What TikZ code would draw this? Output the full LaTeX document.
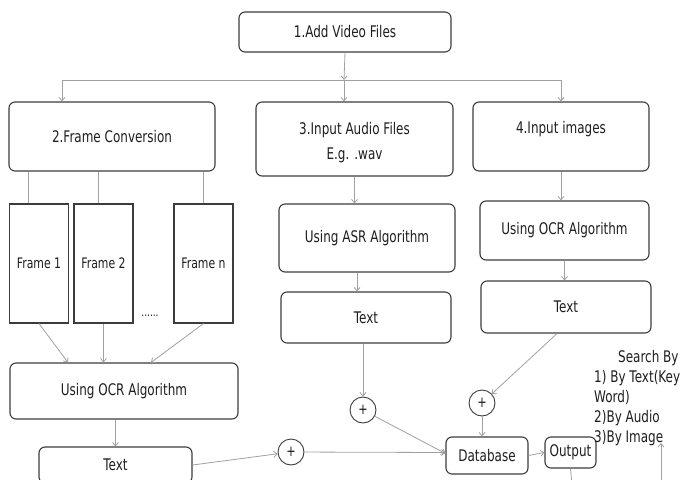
\documentclass[tikz,border=0pt]{standalone}
\usepackage{fontspec}
\setmainfont{DejaVu Sans}[FakeStretch=0.75]
\usetikzlibrary{arrows.meta}
\definecolor{boxline}{HTML}{3C3C3C}
\definecolor{linkgray}{HTML}{A0A0A0}
\definecolor{ink}{HTML}{1E1E1E}

\begin{document}
\begin{tikzpicture}[x=1pt, y=-1pt,
  box/.style={draw=boxline, line width=1.1pt, rounded corners=6pt, align=center,
    text=ink, inner sep=2pt, font=\fontsize{16}{20}\selectfont},
  framebox/.style={draw=boxline, line width=1.1pt, minimum width=59pt,
    minimum height=119pt, text=ink, inner sep=0pt, font=\fontsize{14.5}{18}\selectfont},
  sumnode/.style={circle, draw=boxline, line width=0.9pt, minimum size=26pt,
    inner sep=0pt, text=ink, font=\fontsize{15}{18}\selectfont},
  link/.style={draw=linkgray, line width=0.8pt, -{Straight Barb[length=3.5pt,width=6pt]}},
  plainlink/.style={draw=linkgray, line width=0.8pt}]
\useasboundingbox (0,0) rectangle (685,479);

% top row
\node[box, minimum width=212pt, minimum height=40pt] (add) at (345,32) {1.Add Video Files};
\node[box, minimum width=206pt, minimum height=69pt] (frameconv) at (112,136.5) {2.Frame Conversion};
\node[box, minimum width=197pt, minimum height=74pt] (audio) at (354.5,139)
  {\rule{0pt}{19pt}3.Input Audio Files\\[5pt]E.g. .wav};
\node[box, minimum width=176pt, minimum height=69pt, text depth=18pt] (images) at (561,136.5) {4.Input images};
\coordinate (split) at (344,80);

% frames
\node[framebox] (frame1) at (39,263.5) {Frame 1};
\node[framebox] (frame2) at (103.5,263.5) {Frame 2};
\node[framebox] (framen) at (203.5,263.5) {Frame n};
\node[text=ink, font=\fontsize{12}{14}\selectfont, inner sep=0pt] (dots) at (150,316) {......};

% algorithms and texts
\node[box, minimum width=228pt, minimum height=56pt] (ocr) at (124,391) {Using OCR Algorithm};
\node[box, minimum width=153pt, minimum height=36pt] (frametext) at (115.5,465) {Text};
\node[box, minimum width=176pt, minimum height=68pt] (asr) at (367,238) {Using ASR Algorithm};
\node[box, minimum width=170pt, minimum height=51pt] (asrtext) at (366,317.5) {Text};
\node[box, minimum width=169pt, minimum height=59pt] (ocrimg) at (564.5,230.5) {Using OCR Algorithm};
\node[box, minimum width=170pt, minimum height=52pt] (imgtext) at (566,307) {Text};

% merging
\node[sumnode] (plusA) at (363,410) {+};
\node[sumnode] (plusB) at (482,403) {+};
\node[sumnode] (plusC) at (291,452) {+};
\node[box, minimum width=82pt, minimum height=37pt] (db) at (487,455.5) {Database};
\node[box, minimum width=51pt, minimum height=31pt] (out) at (570.5,452.5) {Output};
\node[text=ink, align=left, inner sep=0pt, anchor=north west,
  font=\fontsize{16}{20}\selectfont] (search) at (594,350)
  {\hspace*{24pt}Search By\\1) By Text(Key\\Word)\\2)By Audio\\3)By Image};
\coordinate (outend) at (572,485);
\coordinate (searchfoot) at (661,485);
\coordinate (searchtip) at (661,443);

% connectors
\draw[link] (add.south) -- (split);
\draw[link] (split) -| ([xshift=-50pt]frameconv.north);
\draw[link] (split) -- (split |- audio.north);
\draw[link] (split) -| (images.north);
\foreach \f/\dx in {frame1/-11, frame2/-5.5, framen/-0.5}
  \draw[plainlink] ([xshift=\dx pt]\f.north) -- ([xshift=\dx pt]\f.north |- frameconv.south);
\draw[link] (frame1.south) -- ([xshift=-56pt]ocr.north);
\draw[link] (frame2.south) -- (frame2.south |- ocr.north);
\draw[link] (framen.south) -- ([xshift=27pt]ocr.north);
\draw[link] (frametext.north |- ocr.south) -- (frametext.north);
\draw[link] (frametext.east) -- (plusC);
\draw[link] (plusC) -- ([yshift=3pt]db.west);
\draw[link] (audio.south) -- (audio.south |- asr.north);
\draw[link] ([xshift=-10pt]asr.south) -- ([xshift=-10pt]asr.south |- asrtext.north);
\draw[link] (plusA |- asrtext.south) -- (plusA);
\draw[link] (plusA) -- ([yshift=2pt]db.west);
\draw[link] (images.south) -- (images.south |- ocrimg.north);
\draw[link] (ocrimg.south) -- (ocrimg.south |- imgtext.north);
\draw[link] ([xshift=-9pt]imgtext.south) -- (plusB);
\draw[link] (plusB) -- (plusB |- db.north);
\draw[link] (db.east) -- (out.west);
\draw[plainlink] (out.south) -- (outend);
\draw[link] (searchfoot) -- (searchtip);
\end{tikzpicture}
\end{document}
